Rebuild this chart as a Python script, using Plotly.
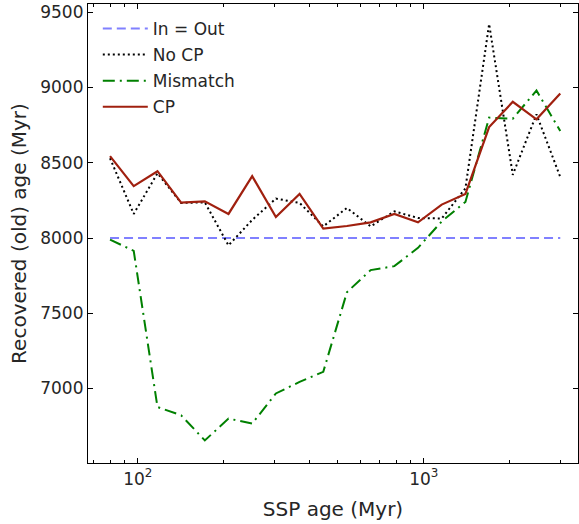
import numpy as np
import plotly.graph_objects as go

ssp_age = [80, 96.8, 117.2, 141.8, 171.6, 207.6, 251.2, 304.0, 367.9, 445.2,
           538.7, 651.9, 788.9, 954.6, 1155, 1398, 1692, 2047, 2477, 3000]
in_out = [8000] * len(ssp_age)
no_cp = [8530, 8160, 8430, 8233, 8237, 7951, 8120, 8262, 8233, 8077,
         8200, 8077, 8177, 8133, 8130, 8330, 9422, 8420, 8822, 8405]
mismatch = [7989, 7915, 6877, 6822, 6655, 6800, 6767, 6967, 7044, 7111,
            7640, 7787, 7813, 7935, 8110, 8240, 8800, 8793, 8980, 8711]
cp = [8544, 8345, 8444, 8235, 8244, 8160, 8411, 8140, 8293, 8062,
      8080, 8104, 8160, 8104, 8222, 8293, 8737, 8905, 8789, 8960]

fig = go.Figure()
fig.add_trace(go.Scatter(x=ssp_age, y=in_out, mode="lines", name="In = Out", legendgroup="a",
                         line=dict(color="#8080ff", width=2, dash="9px,5px")))
fig.add_trace(go.Scatter(x=ssp_age, y=no_cp, mode="lines", name="No CP", legendgroup="b",
                         line=dict(color="black", width=2, dash="2px,3px")))
fig.add_trace(go.Scatter(x=ssp_age, y=mismatch, mode="lines", name="Mismatch", legendgroup="c",
                         line=dict(color="#008000", width=2, dash="12px,5px,2px,5px")))
fig.add_trace(go.Scatter(x=ssp_age, y=cp, mode="lines", name="CP", legendgroup="d",
                         line=dict(color="#a0200f", width=2.2)))

minor_vals = [m * 10 ** e for e in (1, 2, 3) for m in range(2, 10)]
fig.update_layout(
    width=579, height=524,
    margin=dict(l=88, r=1, t=4, b=61),
    paper_bgcolor="white", plot_bgcolor="white",
    font=dict(family="DejaVu Sans", color="#262626"),
    showlegend=True,
    legend=dict(x=0.02, y=0.985, xanchor="left", yanchor="top",
                bgcolor="rgba(0,0,0,0)", font=dict(size=17, color="#262626"),
                tracegroupgap=1, traceorder="grouped", itemwidth=45),
)
fig.update_xaxes(
    type="log", range=[np.log10(67), np.log10(3460)],
    tickvals=[100, 1000], ticktext=["10<sup>2</sup>", "10<sup>3</sup>"],
    ticks="inside", ticklen=5, tickwidth=1, tickcolor="black",
    minor=dict(tickvals=minor_vals, ticks="inside", ticklen=3, tickwidth=1, tickcolor="black", showgrid=False),
    showline=True, linecolor="black", linewidth=1.2, mirror="ticks",
    showgrid=False, zeroline=False,
    tickfont=dict(size=17),
    title=dict(text="SSP age (Myr)", font=dict(size=20), standoff=14),
)
fig.update_yaxes(
    range=[6505, 9555],
    tickvals=[7000, 7500, 8000, 8500, 9000, 9500],
    ticks="inside", ticklen=5, tickwidth=1, tickcolor="black",
    showline=True, linecolor="black", linewidth=1.2, mirror="ticks",
    showgrid=False, zeroline=False,
    tickfont=dict(size=17),
    title=dict(text="Recovered (old) age (Myr)", font=dict(size=20), standoff=8),
)
fig.write_html("out.html")
